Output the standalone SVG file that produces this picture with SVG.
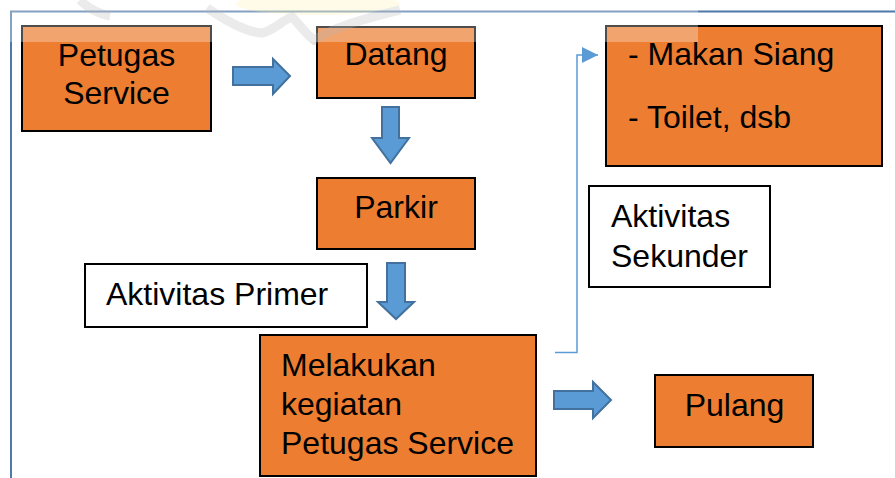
<svg xmlns="http://www.w3.org/2000/svg" width="895" height="478" viewBox="0 0 895 478">
  <style>
    .box { fill: #ed7d31; stroke: #000; stroke-width: 2; }
    .note { fill: #fff; stroke: #000; stroke-width: 2; }
    .label { font-family: "Liberation Sans", Arial, sans-serif; font-size: 32px; fill: #000; }
    .mid { text-anchor: middle; }
    .block { fill: #5b9bd5; stroke: #41719c; stroke-width: 2; stroke-linejoin: miter; }
    .link { fill: none; stroke: #5b9bd5; stroke-width: 1.5; }
  </style>
  <defs>
    <marker id="tri" viewBox="0 0 10 10" refX="10" refY="5" markerWidth="16" markerHeight="16" markerUnits="userSpaceOnUse" orient="auto">
      <path d="M0,0 L10,5 L0,10 Z" fill="#5b9bd5"/>
    </marker>
  </defs>

  <rect width="895" height="478" fill="#fff"/>

  <!-- page frame -->
  <path d="M11,478 V11.5 H895" fill="none" stroke="#4f79a8" stroke-width="2"/>

  <!-- nodes -->
  <g id="petugas-service">
    <rect class="box" x="22" y="26" width="189" height="105"/>
    <text class="label mid" x="116.5" y="66">Petugas</text>
    <text class="label mid" x="116.5" y="104">Service</text>
  </g>
  <g id="datang">
    <rect class="box" x="317" y="27" width="158" height="71"/>
    <text class="label mid" x="396" y="65">Datang</text>
  </g>
  <g id="parkir">
    <rect class="box" x="317" y="178" width="158" height="71"/>
    <text class="label mid" x="396" y="218">Parkir</text>
  </g>
  <g id="aktivitas-primer">
    <rect class="note" x="85" y="264" width="282" height="63"/>
    <text class="label" x="106" y="305">Aktivitas Primer</text>
  </g>
  <g id="melakukan-kegiatan">
    <rect class="box" x="260" y="335" width="276" height="141"/>
    <text class="label" x="281" y="376">Melakukan</text>
    <text class="label" x="281" y="415">kegiatan</text>
    <text class="label" x="281" y="454">Petugas Service</text>
  </g>
  <g id="pulang">
    <rect class="box" x="655" y="375" width="158" height="72"/>
    <text class="label mid" x="734.5" y="416">Pulang</text>
  </g>
  <g id="makan-siang-toilet">
    <rect class="box" x="606" y="26" width="276" height="140"/>
    <text class="label" x="628" y="65">- Makan Siang</text>
    <text class="label" x="628" y="128">- Toilet, dsb</text>
  </g>
  <g id="aktivitas-sekunder">
    <rect class="note" x="589" y="186" width="181" height="101"/>
    <text class="label" x="611" y="227">Aktivitas</text>
    <text class="label" x="611" y="267">Sekunder</text>
  </g>

  <!-- connectors -->
  <g id="connectors">
    <path class="block" d="M233,67 H273 V59 L290,76 L273,94 V85 H233 Z"/>
    <path class="block" d="M382,107 H399 V138 H409 L390.5,163 L372,138 H382 Z"/>
    <path class="block" d="M387,263 H405 V302 H414 L396,319 L378,302 H387 Z"/>
    <path class="block" d="M554,391 H593 V382 L611,400 L593,418 V409 H554 Z"/>
    <path class="link" d="M555,352.5 H577 V55 H598" marker-end="url(#tri)"/>
  </g>

  <!-- faint emblem and light band across the top -->
  <g id="emblem" opacity="0.28">
    <ellipse cx="318" cy="4" rx="82" ry="11" fill="#fff08a"/>
    <path d="M80,0 C90,10 100,14 110,16 M207,8 C225,20 245,32 262,33 C275,30 282,20 292,17 C300,25 306,34 314,40 C330,30 350,22 400,10" fill="none" stroke="#9a9a9a" stroke-width="9"/>
  </g>
  <rect x="0" y="0" width="698" height="42" fill="#fff" opacity="0.3"/>
</svg>
